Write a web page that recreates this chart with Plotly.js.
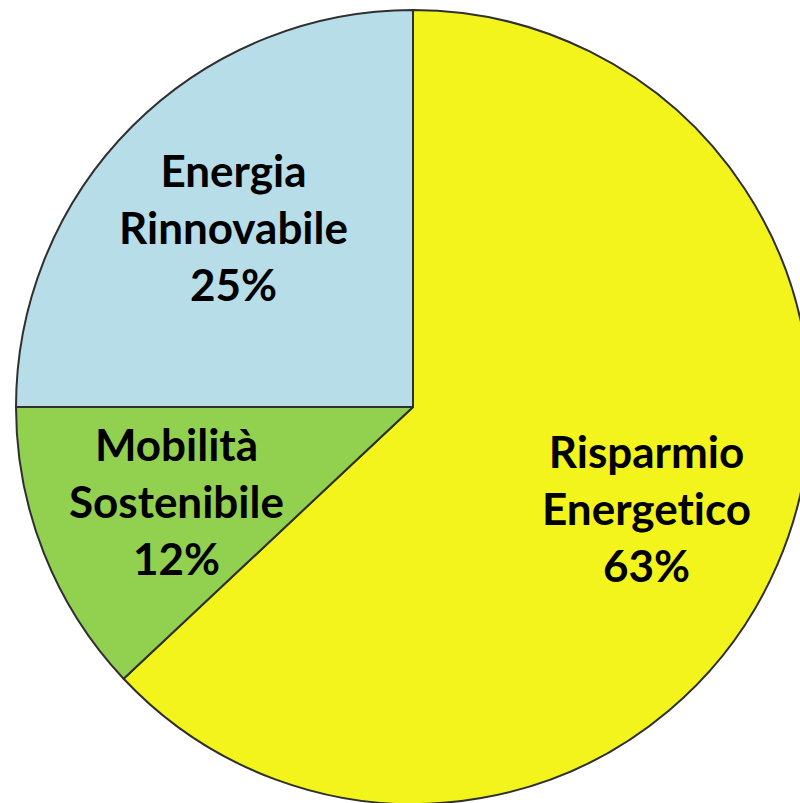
<!DOCTYPE html>
<html>
<head>
<meta charset="utf-8">
<script src="https://cdn.plot.ly/plotly-3.0.1.min.js"></script>
<style>
html, body { margin: 0; padding: 0; overflow: hidden; background: #ffffff; }
#chart { width: 830px; height: 830px; }
text, tspan { font-variant-ligatures: none; font-feature-settings: "liga" 0, "clig" 0; }
</style>
</head>
<body>
<div id="chart"></div>
<script>
// Data (clockwise from 12 o'clock)
const labels = ["Risparmio Energetico", "Mobilità Sostenibile", "Energia Rinnovabile"];
const labelLines = ["Risparmio<br>Energetico", "Mobilità<br>Sostenibile", "Energia<br>Rinnovabile"];
const values = [63, 12, 25];
const colors = ["#F2F41C", "#92D050", "#B7DEE8"];

// label annotations placed along each slice's mid angle
const total = values.reduce((a, b) => a + b, 0);
const annotations = [];
let cum = 0;
const labelRadius = 0.64; // fraction of pie radius
for (let i = 0; i < values.length; i++) {
  const mid = (cum + values[i] / 2) / total * 2 * Math.PI;
  cum += values[i];
  annotations.push({
    xref: "paper", yref: "paper",
    x: 0.5 + 0.5 * labelRadius * Math.sin(mid),
    y: 0.5 + 0.5 * labelRadius * Math.cos(mid),
    xanchor: "center", yanchor: "middle",
    showarrow: false,
    align: "center",
    text: "<b>" + labelLines[i] + "<br>" + Math.round(values[i] / total * 100) + "%</b>",
    font: { family: "Lato, 'Open Sans', sans-serif", size: 44, color: "#000000" }
  });
}

const data = [{
  type: "pie",
  labels: labels,
  values: values,
  sort: false,
  direction: "clockwise",
  rotation: 0,
  marker: { colors: colors, line: { color: "#2f2f2f", width: 2 } },
  textinfo: "none",
  hoverinfo: "label+percent",
  domain: { x: [0, 1], y: [0, 1] }
}];

const layout = {
  width: 830,
  height: 830,
  margin: { l: 16, t: 10, r: 20, b: 26, pad: 0 },
  showlegend: false,
  paper_bgcolor: "#ffffff",
  annotations: annotations
};

Plotly.newPlot("chart", data, layout, { displayModeBar: false, staticPlot: true });
</script>
</body>
</html>
